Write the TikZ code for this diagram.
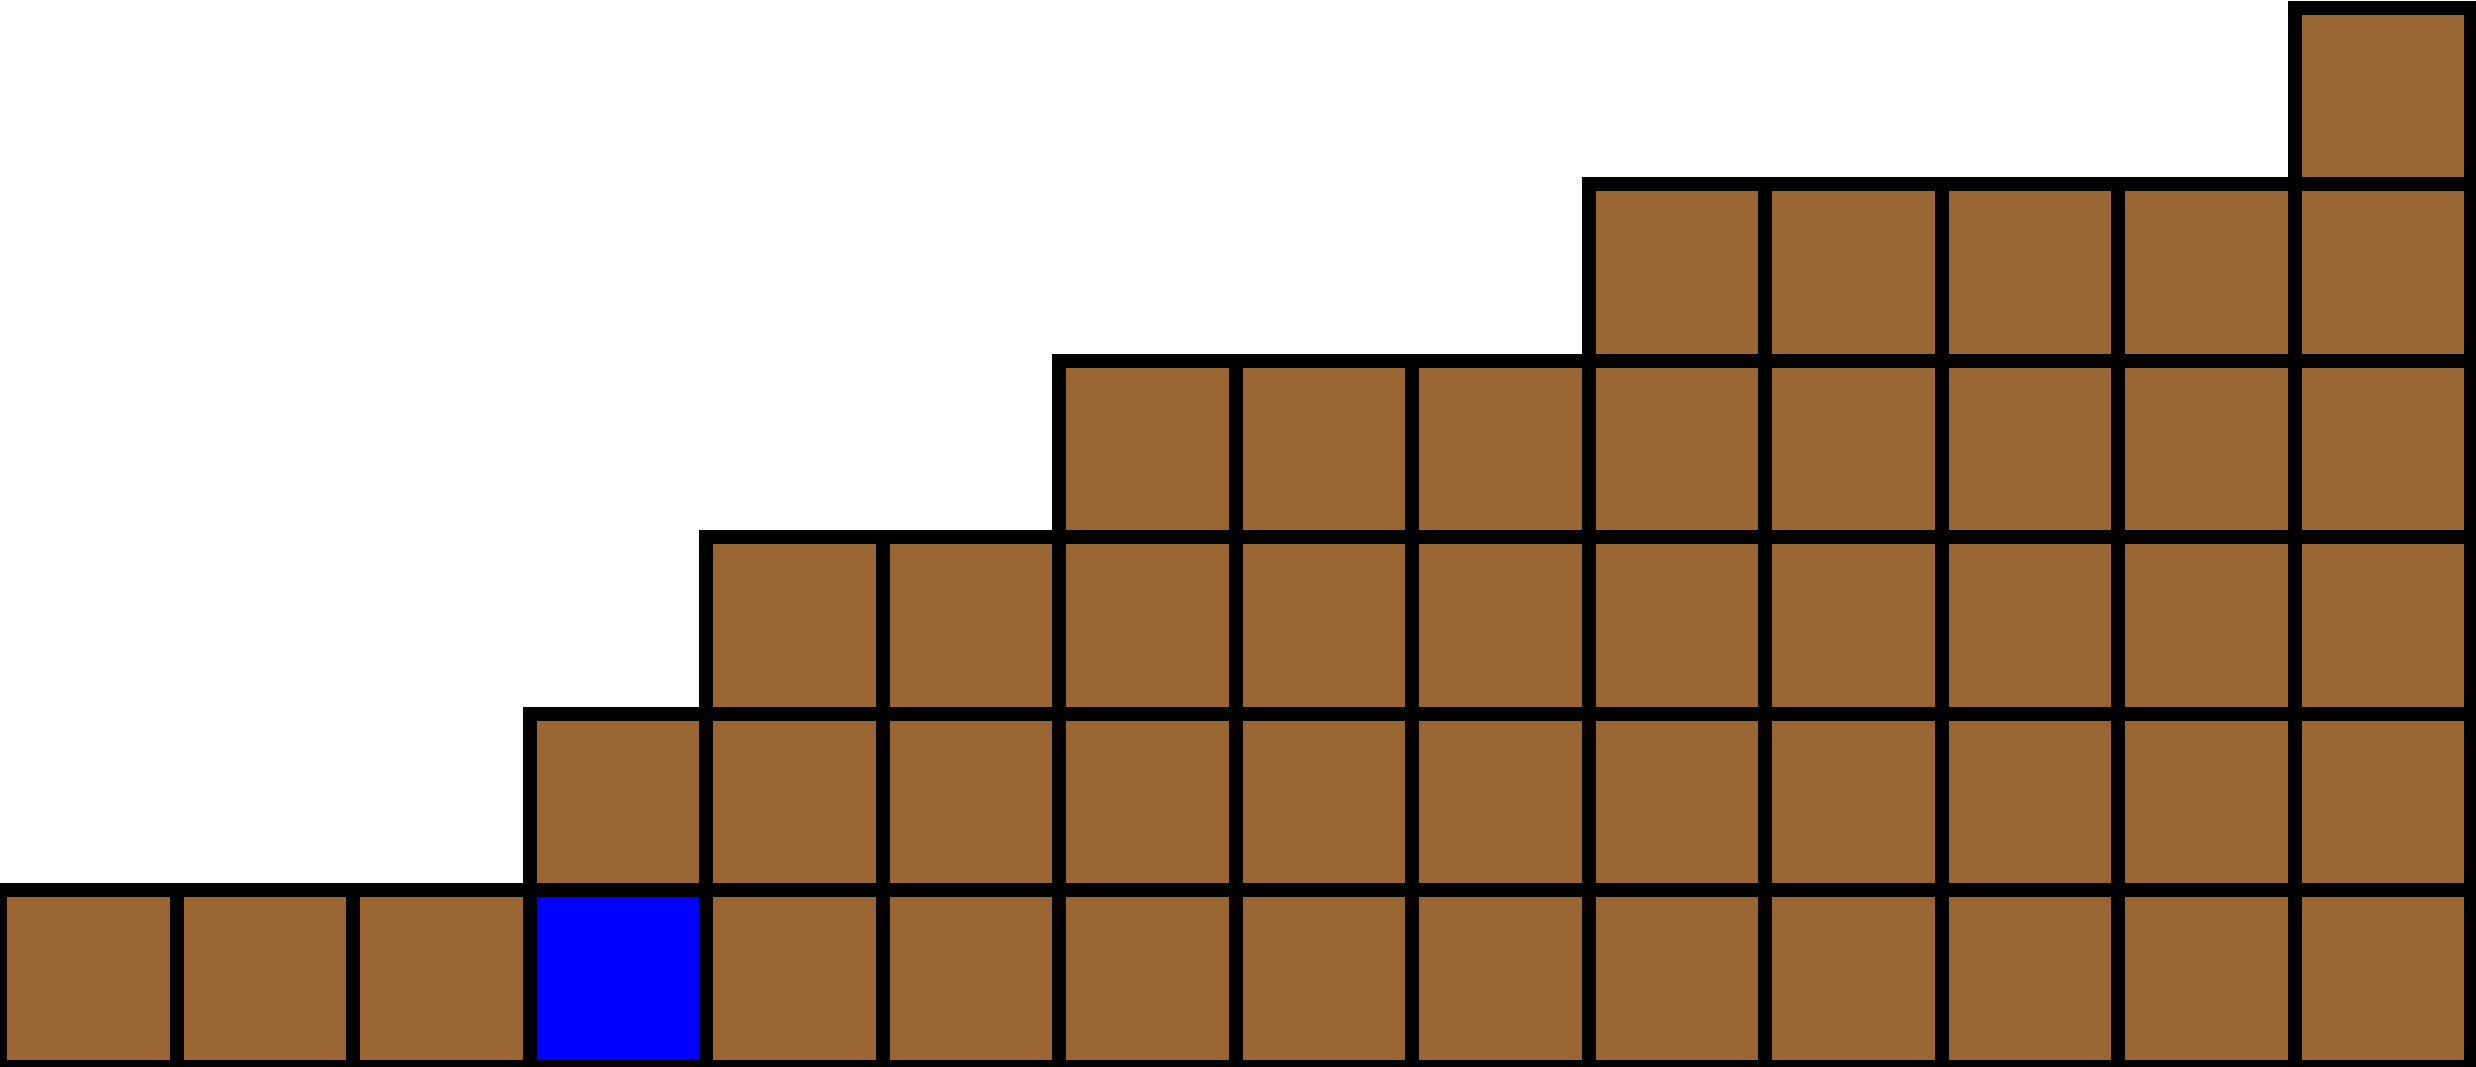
\documentclass[tikz,border=0pt]{standalone}
\definecolor{brick}{HTML}{996633}
\definecolor{pure}{HTML}{0000FF}
\tikzset{
  cell/.style={draw=black, line width=14pt, fill=brick, minimum width=176.5pt, minimum height=176.5pt, inner sep=0pt, outer sep=0pt, anchor=south west},
  bluecell/.style={cell, fill=pure}
}
\begin{document}
\begin{tikzpicture}[x=1pt,y=1pt]
\useasboundingbox (0,0) rectangle (2476,1067);
\foreach \r/\s in {0/0,1/3,2/4,3/6,4/9,5/13}{
  \foreach \c in {\s,...,13}{
    \ifnum\r=0 \ifnum\c=3
      \node[bluecell] (c-\r-\c) at ({\c*176.5},{\r*176.5}) {};
    \else
      \node[cell] (c-\r-\c) at ({\c*176.5},{\r*176.5}) {};
    \fi\else
      \node[cell] (c-\r-\c) at ({\c*176.5},{\r*176.5}) {};
    \fi
  }
}
\end{tikzpicture}
\end{document}
